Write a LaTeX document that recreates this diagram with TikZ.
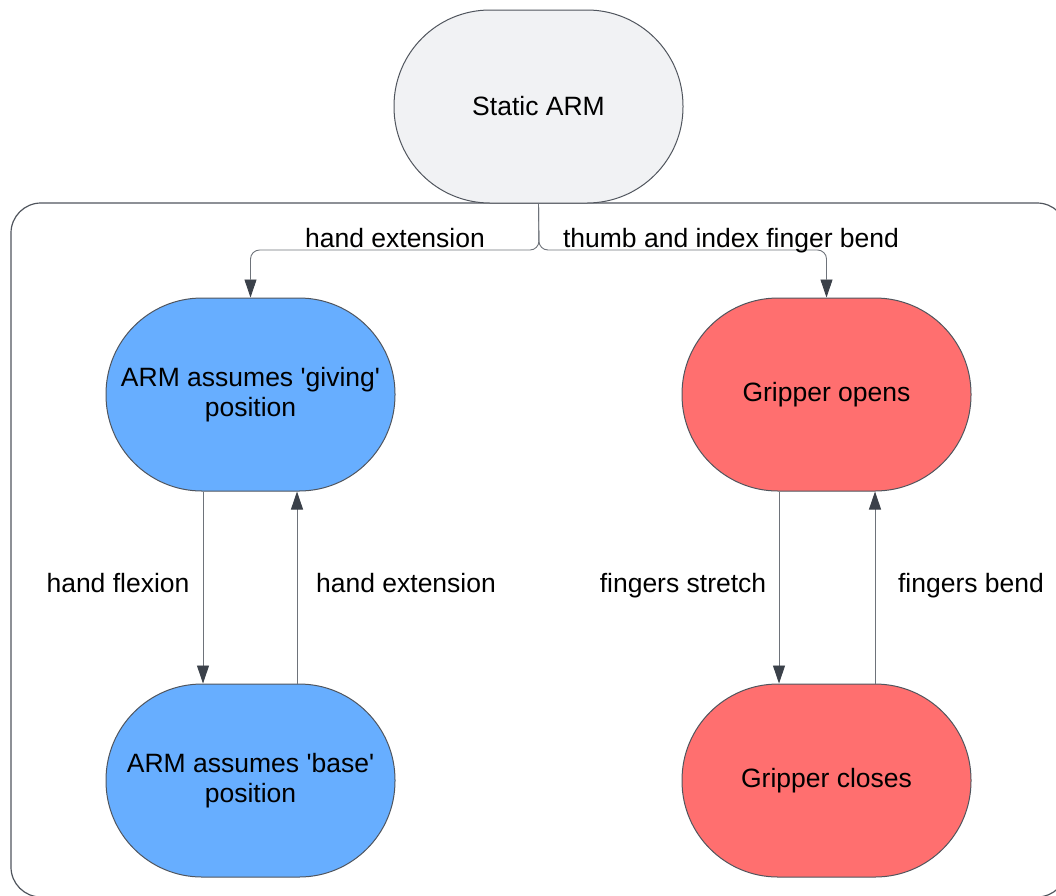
\documentclass[tikz,border=0pt]{standalone}
\usepackage{fontspec}
\setmainfont{Liberation Sans}
\usetikzlibrary{arrows.meta}
\definecolor{linec}{HTML}{50555D}
\definecolor{conc}{HTML}{6E737A}
\definecolor{headc}{HTML}{3B414A}
\definecolor{greyfill}{HTML}{F1F2F4}
\definecolor{bluefill}{HTML}{67AEFF}
\definecolor{redfill}{HTML}{FF6F6F}
\tikzset{
  x=1pt, y=-1pt,
  state/.style={draw=linec, line width=1pt, minimum width=289pt, minimum height=193pt,
    rounded corners=96pt, align=center, font=\fontsize{26.5}{30}\selectfont, inner sep=0pt},
  lbl/.style={font=\fontsize{26.5}{30}\selectfont, inner sep=0pt, anchor=base},
  conn/.style={draw=conc, line width=0.9pt, rounded corners=9pt,
    -{Triangle[length=18pt,width=12pt,color=headc]}},
}
\begin{document}
\begin{tikzpicture}
\useasboundingbox (0,0) rectangle (1056,895);
\begin{scope}
\clip (0,0) rectangle (1056,895);
\draw[linec, line width=1.2pt, rounded corners=30pt] (11,203) rectangle (1067,897);
\end{scope}
\node[state, fill=greyfill] (static) at (538.5,106.5) {Static ARM};
\node[state, fill=bluefill] (giving) at (250.5,394.5) {ARM assumes \textquotesingle giving\textquotesingle\\position};
\node[state, fill=bluefill] (base) at (250.5,780.5) {ARM assumes \textquotesingle base\textquotesingle\\position};
\node[state, fill=redfill] (opens) at (826.5,394.5) {Gripper opens};
\node[state, fill=redfill] (closes) at (826.5,780.5) {Gripper closes};
\coordinate (split) at (539,250);
\draw[conn] (static.south) -- (split) -| (giving.north);
\draw[conn] (static.south) -- (split) -| (opens.north);
\node[lbl] (l1) at (395,247.5) {hand extension};
\node[lbl] (l2) at (731,247.5) {thumb and index finger bend};
\draw[conn] (giving.south -| 203,0) -- (base.north -| 203,0);
\draw[conn] (base.north -| 297,0) -- (giving.south -| 297,0);
\draw[conn] (opens.south -| 779,0) -- (closes.north -| 779,0);
\draw[conn] (closes.north -| 875,0) -- (opens.south -| 875,0);
\node[lbl] (l3) at (118,592.5) {hand flexion};
\node[lbl] (l4) at (406,592.5) {hand extension};
\node[lbl] (l5) at (683,592.5) {fingers stretch};
\node[lbl] (l6) at (971,592.5) {fingers bend};
\end{tikzpicture}
\end{document}
